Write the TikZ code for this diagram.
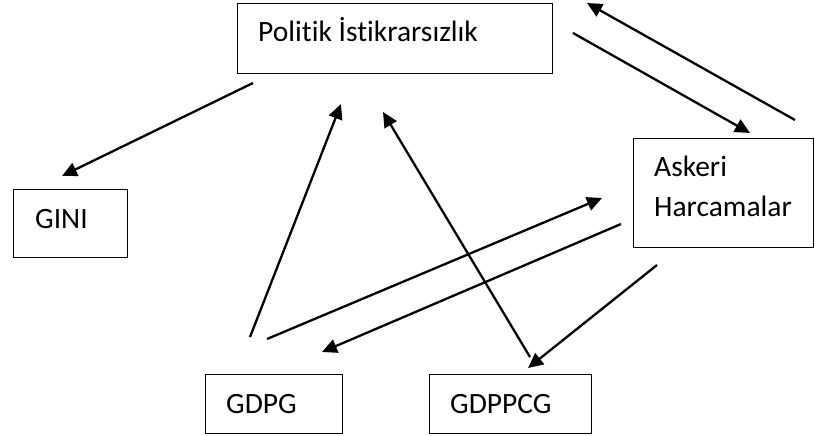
\documentclass[tikz,border=0pt]{standalone}
\usepackage{fontspec}
\setmainfont{Carlito}[Ligatures=NoCommon]
\usetikzlibrary{arrows.meta}
\begin{document}
\begin{tikzpicture}[x=1pt,y=-1pt,
  box/.style={draw, line width=1.2pt, inner sep=0pt, anchor=north west},
  lbl/.style={anchor=base west, inner sep=0pt, font=\fontsize{29.5}{35}\selectfont},
  conn/.style={line width=2.3pt, -{Triangle[length=15pt,width=14pt]}}]
\useasboundingbox (0,0) rectangle (815,436);
% boxes
\node[box, minimum width=315pt, minimum height=70pt] (pol) at (237,3) {};
\node[box, minimum width=114pt, minimum height=68pt] (gini) at (13,189) {};
\node[box, minimum width=180pt, minimum height=109pt] (ask) at (633,138) {};
\node[box, minimum width=137pt, minimum height=59pt] (gdpg) at (205,374) {};
\node[box, minimum width=162pt, minimum height=59pt] (gdppcg) at (429,374) {};
% texts
\node[lbl] (polt) at (258,42) {Politik İstikrarsızlık};
\node[lbl] (ginit) at (35,228) {GINI};
\node[lbl] (askt1) at (654,176) {Askeri};
\node[lbl] (askt2) at (654,216) {Harcamalar};
\node[lbl] (gdpgt) at (226,413) {GDPG};
\node[lbl] (gdppcgt) at (450,413) {GDPPCG};
% connector ends
\coordinate (a1) at (253,83);  \coordinate (b1) at (62,176);
\coordinate (a2) at (250,337); \coordinate (b2) at (341,104);
\coordinate (a3) at (530,357); \coordinate (b3) at (383,112);
\coordinate (a4) at (267,339); \coordinate (b4) at (602,198);
\coordinate (a5) at (621,224); \coordinate (b5) at (322,352);
\coordinate (a6) at (657,265); \coordinate (b6) at (528,368);
\coordinate (a7) at (573,33);  \coordinate (b7) at (750,133);
\coordinate (a8) at (795,120); \coordinate (b8) at (587,3);
\foreach \i in {1,...,8} \draw[conn] (a\i) -- (b\i);
\end{tikzpicture}
\end{document}
